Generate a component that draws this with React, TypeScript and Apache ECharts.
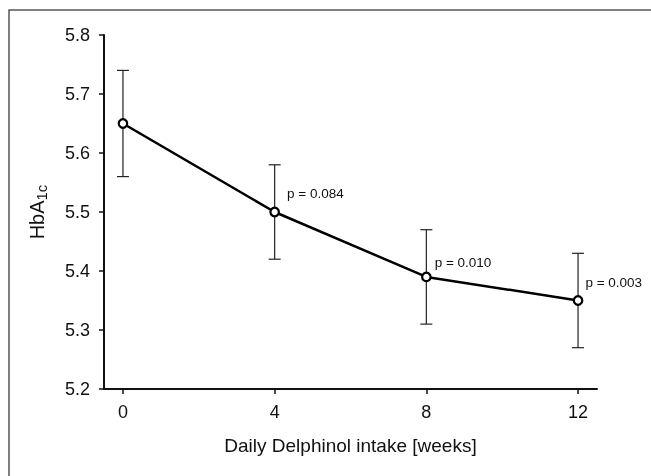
import React, { useEffect, useRef } from "react";
import * as echarts from "echarts";

const weeks = [0, 4, 8, 12];
const hba1c = [5.65, 5.5, 5.39, 5.35];
const errLow = [5.56, 5.42, 5.31, 5.27];
const errHigh = [5.74, 5.58, 5.47, 5.43];
const pLabels = ["", "p = 0.084", "p = 0.010", "p = 0.003"];
const pOffsets = [[0, 0], [2, -19], [-2, -14], [-3, -18]];
const xTicks = [0, 4, 8, 12];

export default function App() {
  const ref = useRef<HTMLDivElement>(null);
  useEffect(() => {
    if (!ref.current) return;
    const chart = echarts.init(ref.current, null, { renderer: "svg" });
    const font = "Liberation Sans";
    chart.setOption({
      animation: false,
      textStyle: { fontFamily: font },
      graphic: [
        {
          type: "rect",
          shape: { x: 9, y: 10, width: 800, height: 800 },
          style: { fill: "none", stroke: "#555", lineWidth: 1.5 },
          silent: true,
        },
      ],
      grid: { left: 104, top: 35, right: 54, bottom: 87 },
      xAxis: {
        type: "value",
        min: -0.5,
        max: 12.5,
        name: "Daily Delphinol intake [weeks]",
        nameLocation: "middle",
        nameGap: 47,
        nameTextStyle: { fontFamily: font, fontSize: 19, color: "#111" },
        axisLine: { show: true, onZero: false, lineStyle: { color: "#111", width: 2 } },
        axisTick: { show: true, length: 5, lineStyle: { color: "#111", width: 1.5 }, customValues: xTicks },
        axisLabel: { fontFamily: font, fontSize: 18, color: "#111", margin: 14, customValues: xTicks },
        splitLine: { show: false },
      },
      yAxis: {
        type: "value",
        min: 5.2,
        max: 5.8,
        interval: 0.1,
        name: "{a|HbA}{b|1c}",
        nameLocation: "middle",
        nameGap: 55,
        nameTextStyle: {
          fontFamily: font,
          color: "#111",
          rich: {
            a: { fontFamily: font, fontSize: 20, color: "#111" },
            b: { fontFamily: font, fontSize: 15, color: "#111", padding: [10, 0, 0, 0] },
          },
        },
        axisLine: { show: true, onZero: false, lineStyle: { color: "#111", width: 2 } },
        axisTick: { show: true, length: 5, lineStyle: { color: "#111", width: 1.5 } },
        axisLabel: {
          fontFamily: font,
          fontSize: 18,
          color: "#111",
          margin: 14,
          formatter: (v: number) => v.toFixed(1),
        },
        splitLine: { show: false },
      },
      series: [
        {
          type: "custom",
          data: weeks.map((w, i) => [w, errLow[i], errHigh[i]]),
          z: 1,
          renderItem: (params: any, api: any) => {
            const x = api.value(0);
            const lo = api.coord([x, api.value(1)]);
            const hi = api.coord([x, api.value(2)]);
            const cw = 6;
            const style = { stroke: "#222", lineWidth: 1.2 };
            return {
              type: "group",
              children: [
                { type: "line", shape: { x1: lo[0], y1: lo[1], x2: hi[0], y2: hi[1] }, style },
                { type: "line", shape: { x1: lo[0] - cw, y1: lo[1], x2: lo[0] + cw, y2: lo[1] }, style },
                { type: "line", shape: { x1: hi[0] - cw, y1: hi[1], x2: hi[0] + cw, y2: hi[1] }, style },
              ],
            };
          },
        },
        {
          type: "line",
          z: 3,
          data: weeks.map((w, i) => ({
            value: [w, hba1c[i]],
            label: {
              show: pLabels[i] !== "",
              formatter: pLabels[i],
              position: "right",
              offset: pOffsets[i],
              fontFamily: font,
              fontSize: 13.5,
              color: "#111",
            },
          })),
          lineStyle: { color: "#000", width: 2.5 },
          symbol: "circle",
          symbolSize: 8.5,
          itemStyle: { color: "#fff", borderColor: "#000", borderWidth: 2.2 },
        },
      ],
    });
    return () => chart.dispose();
  }, []);
  return <div ref={ref} style={{ position: "fixed", left: 0, top: 0, width: 651, height: 476 }} />;
}
